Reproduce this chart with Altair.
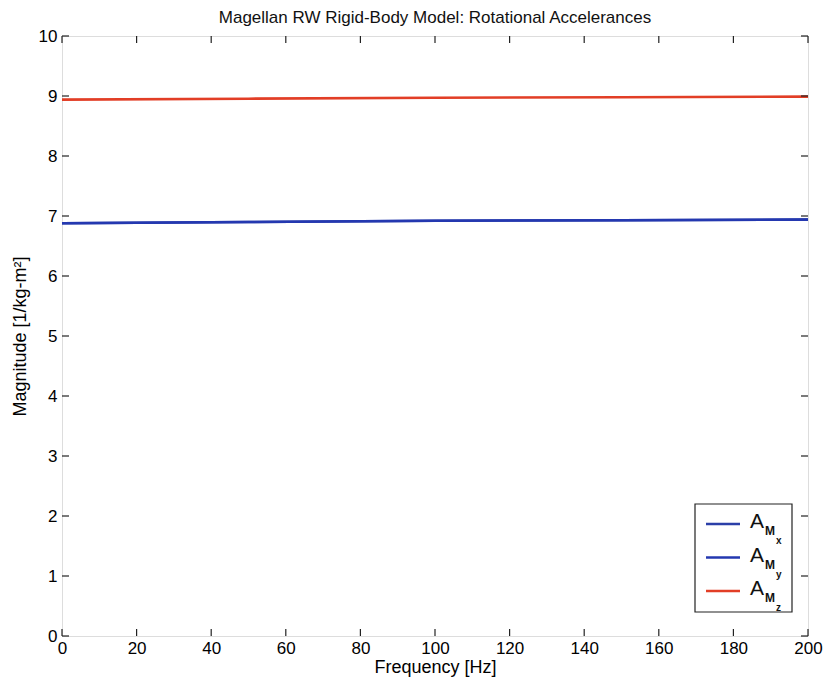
import altair as alt
import pandas as pd

# ---- data ----
freq = [0, 50, 100, 150, 200]
a_mx = [6.88, 6.90, 6.92, 6.93, 6.94]
a_my = [6.88, 6.90, 6.92, 6.93, 6.94]
a_mz = [8.94, 8.955, 8.97, 8.98, 8.99]
series = ["A_Mx", "A_My", "A_Mz"]
subscripts = ["x", "y", "z"]
colors = ["#2b3fa8", "#2438b0", "#e23e26"]
x_ticks = [0, 20, 40, 60, 80, 100, 120, 140, 160, 180, 200]
y_ticks = [0, 1, 2, 3, 4, 5, 6, 7, 8, 9, 10]

FONT = "Liberation Sans, Arial, Helvetica, sans-serif"
W, H = 746, 600

rows = []
for name, vals in zip(series, [a_mx, a_my, a_mz]):
    for f, v in zip(freq, vals):
        rows.append({"freq": f, "mag": v, "series": name})
df = pd.DataFrame(rows)

xscale = alt.Scale(domain=[0, 200], nice=False)
yscale = alt.Scale(domain=[0, 10], nice=False)

lines = alt.Chart(df).mark_line(strokeWidth=2.6).encode(
    x=alt.X("freq:Q", scale=xscale, title="Frequency [Hz]",
            axis=alt.Axis(values=x_ticks, format="d", ticks=False, domain=False, grid=False,
                          labelFontSize=17, labelPadding=4, titleFontSize=18,
                          titleFontWeight="normal", titlePadding=2, labelFlush=False)),
    y=alt.Y("mag:Q", scale=yscale, title="Magnitude [1/kg-m²]",
            axis=alt.Axis(values=y_ticks, format="d", ticks=False, domain=False, grid=False,
                          labelFontSize=17, labelPadding=5, titleFontSize=18,
                          titleFontWeight="normal", titlePadding=9, labelFlush=False)),
    color=alt.Color("series:N", scale=alt.Scale(domain=series, range=colors), legend=None),
    order=alt.Order("freq:Q"),
    detail="series:N",
)

xt = pd.DataFrame({"t": x_ticks})
yt = pd.DataFrame({"t": y_ticks})
TL = 7
tick_style = dict(color="#222222", strokeWidth=1.2)
tb = alt.Chart(xt).mark_rule(**tick_style).encode(
    x=alt.X("t:Q", scale=xscale), y=alt.value(H), y2=alt.value(H - TL))
tt = alt.Chart(xt).mark_rule(**tick_style).encode(
    x=alt.X("t:Q", scale=xscale), y=alt.value(0), y2=alt.value(TL))
tl = alt.Chart(yt).mark_rule(**tick_style).encode(
    y=alt.Y("t:Q", scale=yscale), x=alt.value(0), x2=alt.value(TL))
tr = alt.Chart(yt).mark_rule(**tick_style).encode(
    y=alt.Y("t:Q", scale=yscale), x=alt.value(W - TL), x2=alt.value(W))

# ---- legend box (drawn by hand so the nested subscripts can be shown) ----
one = pd.DataFrame({"k": [0]})
box = alt.Chart(one).mark_rect(fill="white", stroke="#222222", strokeWidth=1.2).encode(
    x=alt.value(W - 113), x2=alt.value(W - 16), y=alt.value(H - 132), y2=alt.value(H - 24))
legend_layers = [box]
for i, (sub, col) in enumerate(zip(subscripts, colors)):
    ly = H - 112 + i * 33.5
    legend_layers.append(alt.Chart(one).mark_rule(color=col, strokeWidth=2.6).encode(
        x=alt.value(W - 102), x2=alt.value(W - 68), y=alt.value(ly)))
    legend_layers.append(alt.Chart(one).mark_text(
        text="A", font=FONT, fontSize=21, align="left", baseline="alphabetic", color="#111111").encode(
        x=alt.value(W - 58), y=alt.value(ly + 4)))
    legend_layers.append(alt.Chart(one).mark_text(
        text="M", font=FONT, fontSize=12, fontWeight="bold", align="left", baseline="alphabetic",
        color="#111111").encode(x=alt.value(W - 43), y=alt.value(ly + 11)))
    legend_layers.append(alt.Chart(one).mark_text(
        text=sub, font=FONT, fontSize=10, fontWeight="bold", align="left", baseline="alphabetic",
        color="#111111").encode(x=alt.value(W - 32), y=alt.value(ly + 20)))

chart = alt.layer(lines, tb, tt, tl, tr, *legend_layers).properties(
    width=W, height=H,
    title=alt.Title("Magellan RW Rigid-Body Model: Rotational Accelerances",
                    fontSize=17, fontWeight="normal", font=FONT, offset=0, color="#111111"),
    autosize=alt.AutoSizeParams(type="none"),
    padding={"left": 54, "top": 28, "right": 15, "bottom": 46},
).configure_view(stroke="#222222", strokeWidth=1.5).configure_axis(
    labelFont=FONT, titleFont=FONT, labelColor="#111111", titleColor="#111111"
).configure(background="white")

chart.save("out.html", embed_options={"renderer": "svg", "actions": False})
